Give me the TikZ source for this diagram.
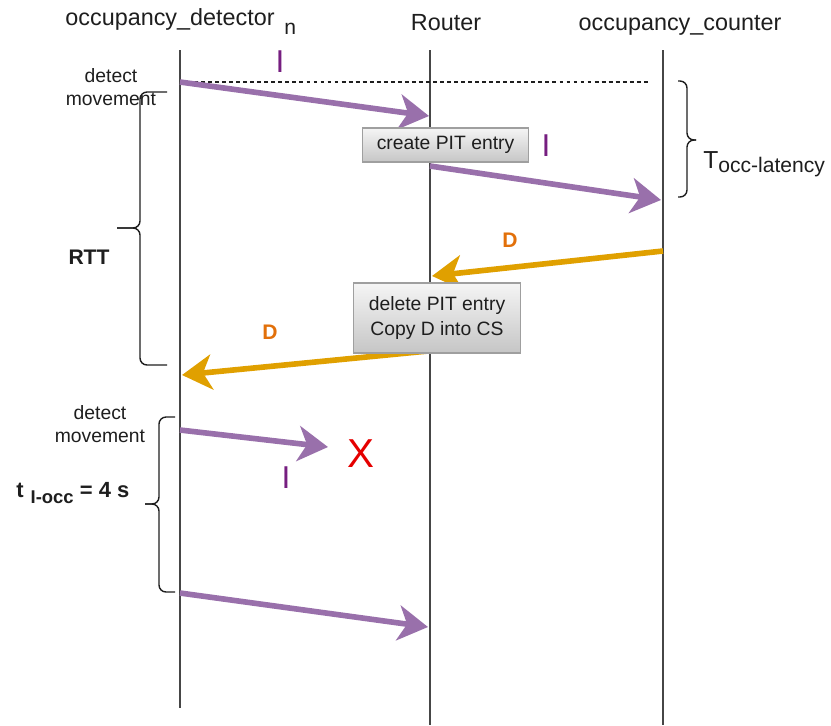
\documentclass[tikz,border=0pt]{standalone}
\usepackage{fontspec}
\setmainfont{Liberation Sans}
\usetikzlibrary{arrows.meta}
\definecolor{interest}{RGB}{153,112,171}
\definecolor{data}{RGB}{224,160,0}
\definecolor{dlabel}{RGB}{226,112,10}
\definecolor{ilabel}{RGB}{118,30,128}
\definecolor{lifeline}{RGB}{70,70,70}
\definecolor{ink}{RGB}{30,30,30}
\begin{document}
\begin{tikzpicture}[x=0.02cm,y=-0.02cm,
  head/.style={anchor=base,inner sep=0pt,text=ink,font=\fontsize{13.3}{15}\selectfont},
  note/.style={align=center,inner sep=0pt,text=ink,font=\fontsize{11}{13}\selectfont},
  ilab/.style={inner sep=0pt,text=ilabel,font=\fontsize{18}{20}\selectfont},
  dlab/.style={inner sep=0pt,text=dlabel,font=\fontsize{12}{14}\selectfont\bfseries},
  pitbox/.style={draw=gray!75,line width=0.8pt,top color=gray!8,bottom color=gray!45,
    align=center,text=ink,font=\fontsize{11}{14}\selectfont,inner sep=0pt},
  life/.style={draw=lifeline,line width=0.9pt},
  msgi/.style={draw=interest,line width=3.2pt,-{Stealth[length=17pt,width=20pt,inset=5pt]}},
  msgd/.style={draw=data,line width=3.2pt,-{Stealth[length=17pt,width=20pt,inset=5pt]}},
  bracepath/.style={draw=ink,line width=0.8pt,rounded corners=4pt}]
\useasboundingbox (0,0) rectangle (831,725);
\node[head] (det) at (170,25) {occupancy\_detector};
\node[head,anchor=base west,font=\fontsize{12}{14}\selectfont] (detn) at (284,34) {n};
\node[head] (rtr) at (446,30) {Router};
\node[head] (cnt) at (680,30) {occupancy\_counter};
\coordinate (detTop) at (180,50);
\coordinate (detBot) at (180,708);
\coordinate (rtrTop) at (430,50);
\coordinate (rtrBot) at (430,725);
\coordinate (cntTop) at (663,50);
\coordinate (cntBot) at (663,725);
\draw[life] (detTop) -- (detBot);
\draw[life] (rtrTop) -- (rtrBot);
\draw[life] (cntTop) -- (cntBot);
\coordinate (i1s) at (180,82);
\coordinate (i1e) at (429,116);
\coordinate (i2s) at (430,166);
\coordinate (i2e) at (661,200);
\coordinate (d1s) at (663,251);
\coordinate (d1e) at (432,276);
\coordinate (d2s) at (428,351);
\coordinate (d2e) at (182,375);
\coordinate (i3s) at (180,430);
\coordinate (i3e) at (328,447);
\coordinate (i4s) at (180,593);
\coordinate (i4e) at (428,627);
\coordinate (dashEnd) at (650,82);
\draw[ink,line width=0.6pt,dash pattern=on 2.2pt off 1.8pt] (i1s) -- (dashEnd);
\draw[msgi] (i1s) -- (i1e);
\draw[msgi] (i2s) -- (i2e);
\draw[msgd] (d1s) -- (d1e);
\draw[msgd] (d2s) -- (d2e);
\draw[msgi] (i3s) -- (i3e);
\draw[msgi] (i4s) -- (i4e);
\node[pitbox,minimum width=94.5pt,minimum height=19.3pt] (create) at (445.5,145) {create PIT entry};
\node[pitbox,minimum width=95.2pt,minimum height=39.7pt] (delete) at (437,318) {delete PIT entry\\Copy D into CS};
\node[ilab] (il1) at (280,62) {I};
\node[ilab] (il2) at (546,146) {I};
\node[ilab] (il3) at (286,478) {I};
\node[dlab] (dl1) at (510,240) {D};
\node[dlab] (dl2) at (270,332) {D};
\node[inner sep=0pt,text=red!90!black,font=\fontsize{23}{25}\selectfont] (drop) at (361,454) {X};
\node[note] (mv1) at (111,87) {detect\\movement};
\node[note] (mv2) at (100,424) {detect\\movement};
\node[inner sep=0pt,text=ink,font=\fontsize{12}{14}\selectfont\bfseries] (rtt) at (89,257) {RTT};
\node[inner sep=0pt,anchor=base west,text=ink,font=\fontsize{12.5}{14}\selectfont\bfseries] (tiocc) at (16,497)
  {t\hspace{4pt}\raisebox{-3.5pt}{\fontsize{10.5}{12}\selectfont I-occ} = 4 s};
\node[inner sep=0pt,anchor=base west,text=ink,font=\fontsize{14}{16}\selectfont] (tlat) at (703,168)
  {T\raisebox{-2.8pt}{\fontsize{12}{14}\selectfont occ-latency}};
\draw[bracepath] (167,92) -- (140,92) -- (140,228) -- (117,228);
\draw[bracepath] (117,228) -- (140,228) -- (140,365) -- (167,365);
\draw[bracepath] (678,81) -- (687,81) -- (687,140) -- (696,140);
\draw[bracepath] (696,140) -- (687,140) -- (687,197) -- (678,197);
\draw[bracepath] (175,417) -- (159,417) -- (159,504) -- (145,504);
\draw[bracepath] (145,504) -- (159,504) -- (159,592) -- (175,592);
\end{tikzpicture}
\end{document}
